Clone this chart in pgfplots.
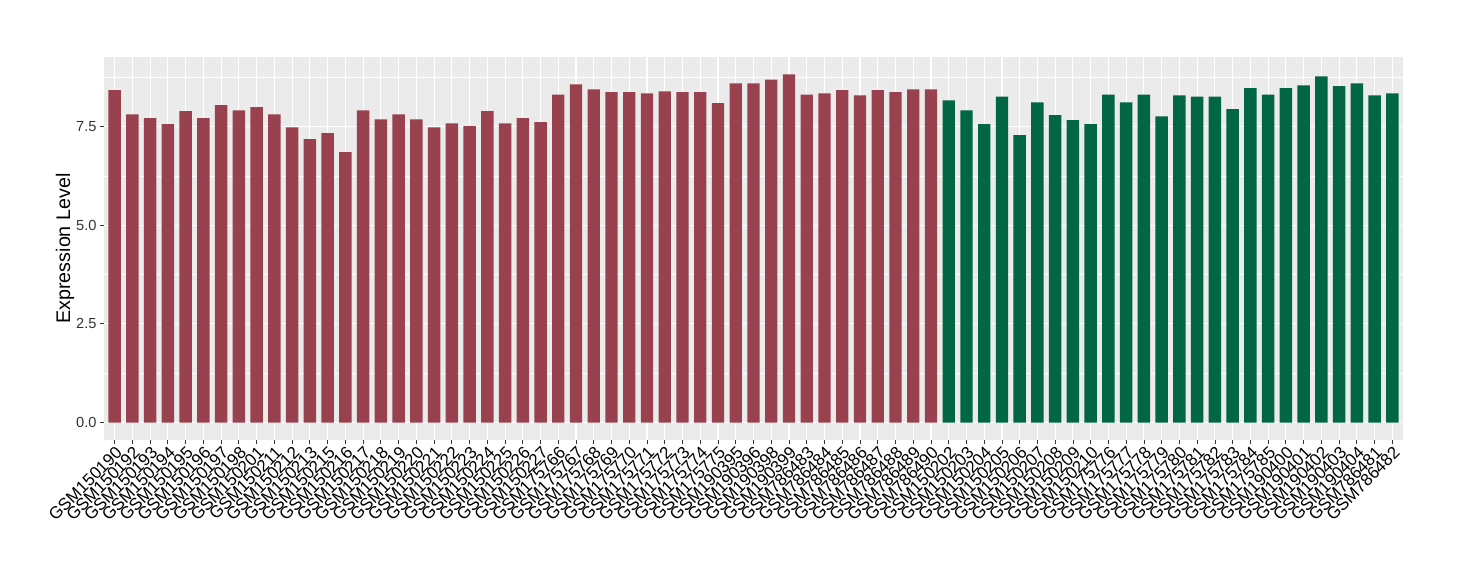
\documentclass[border=0pt]{standalone}
\usepackage{pgfplots}
\pgfplotsset{compat=1.18}
\usepackage{fontspec}
\setmainfont{Liberation Sans}
\definecolor{panelbg}{HTML}{EBEBEB}
\definecolor{redbar}{HTML}{9A4150}
\definecolor{greenbar}{HTML}{006643}
\definecolor{tickcol}{HTML}{333333}
\begin{document}
\begin{tikzpicture}[x=1pt,y=1pt]
\path[use as bounding box] (-104pt,-140pt) rectangle (1356pt,440pt);
\begin{axis}[
  at={(0pt,0pt)}, anchor=south west,
  scale only axis, width=1299pt, height=383pt,
  xmin=0.4, xmax=73.6, ymin=-0.441, ymax=9.261,
  ybar, bar width=12.4pt, bar shift=0pt,
  axis background/.style={fill=panelbg},
  axis line style={draw=none},
  xtick={1,...,73},
  xticklabels={GSM150190,GSM150192,GSM150193,GSM150194,GSM150195,GSM150196,GSM150197,GSM150198,GSM150201,GSM150211,GSM150212,GSM150213,GSM150215,GSM150216,GSM150217,GSM150218,GSM150219,GSM150220,GSM150221,GSM150222,GSM150223,GSM150224,GSM150225,GSM150226,GSM150227,GSM175766,GSM175767,GSM175768,GSM175769,GSM175770,GSM175771,GSM175772,GSM175773,GSM175774,GSM175775,GSM190395,GSM190396,GSM190398,GSM190399,GSM786483,GSM786484,GSM786485,GSM786486,GSM786487,GSM786488,GSM786489,GSM786490,GSM150202,GSM150203,GSM150204,GSM150205,GSM150206,GSM150207,GSM150208,GSM150209,GSM150210,GSM175776,GSM175777,GSM175778,GSM175779,GSM175780,GSM175781,GSM175782,GSM175783,GSM175784,GSM175785,GSM190400,GSM190401,GSM190402,GSM190403,GSM190404,GSM786481,GSM786482},
  ytick={0,2.5,5,7.5},
  yticklabels={0.0,2.5,5.0,7.5},
  minor ytick={1.25,3.75,6.25,8.75},
  xmajorgrids, ymajorgrids, yminorgrids,
  major grid style={white, line width=1.1pt},
  minor grid style={white, line width=0.55pt},
  tick align=outside, tick pos=left,
  major tick length=4pt, minor tick length=0pt,
  tick style={tickcol, line width=0.8pt},
  xticklabel style={rotate=45, anchor=north east, font=\fontsize{17}{17}\selectfont, text=black, inner sep=1pt},
  yticklabel style={font=\fontsize{14.6}{14.6}\selectfont, text=tickcol},
  ylabel={Expression Level},
  ylabel style={font=\fontsize{19.7}{19.7}\selectfont, at={(axis description cs:-0.03,0.5)}, anchor=center},
  /pgf/number format/assume math mode=true,
  clip=false,
]
\addplot[fill=redbar, draw=none] coordinates {
(1,8.42) (2,7.81) (3,7.71) (4,7.56) (5,7.89) (6,7.71) (7,8.04) (8,7.91) (9,7.99) (10,7.81)
(11,7.48) (12,7.18) (13,7.33) (14,6.85) (15,7.91) (16,7.68) (17,7.81) (18,7.68) (19,7.48) (20,7.58)
(21,7.51) (22,7.89) (23,7.58) (24,7.71) (25,7.61) (26,8.31) (27,8.57) (28,8.44) (29,8.37) (30,8.37)
(31,8.34) (32,8.39) (33,8.37) (34,8.37) (35,8.09) (36,8.59) (37,8.59) (38,8.69) (39,8.82) (40,8.31)
(41,8.34) (42,8.42) (43,8.29) (44,8.42) (45,8.37) (46,8.44) (47,8.44)
};
\addplot[fill=greenbar, draw=none] coordinates {
(48,8.16) (49,7.91) (50,7.56) (51,8.26) (52,7.28) (53,8.11) (54,7.79) (55,7.66) (56,7.56) (57,8.31)
(58,8.11) (59,8.31) (60,7.76) (61,8.29) (62,8.26) (63,8.26) (64,7.94) (65,8.47) (66,8.31) (67,8.47)
(68,8.54) (69,8.77) (70,8.52) (71,8.59) (72,8.29) (73,8.34)
};
\end{axis}
\end{tikzpicture}
\end{document}
